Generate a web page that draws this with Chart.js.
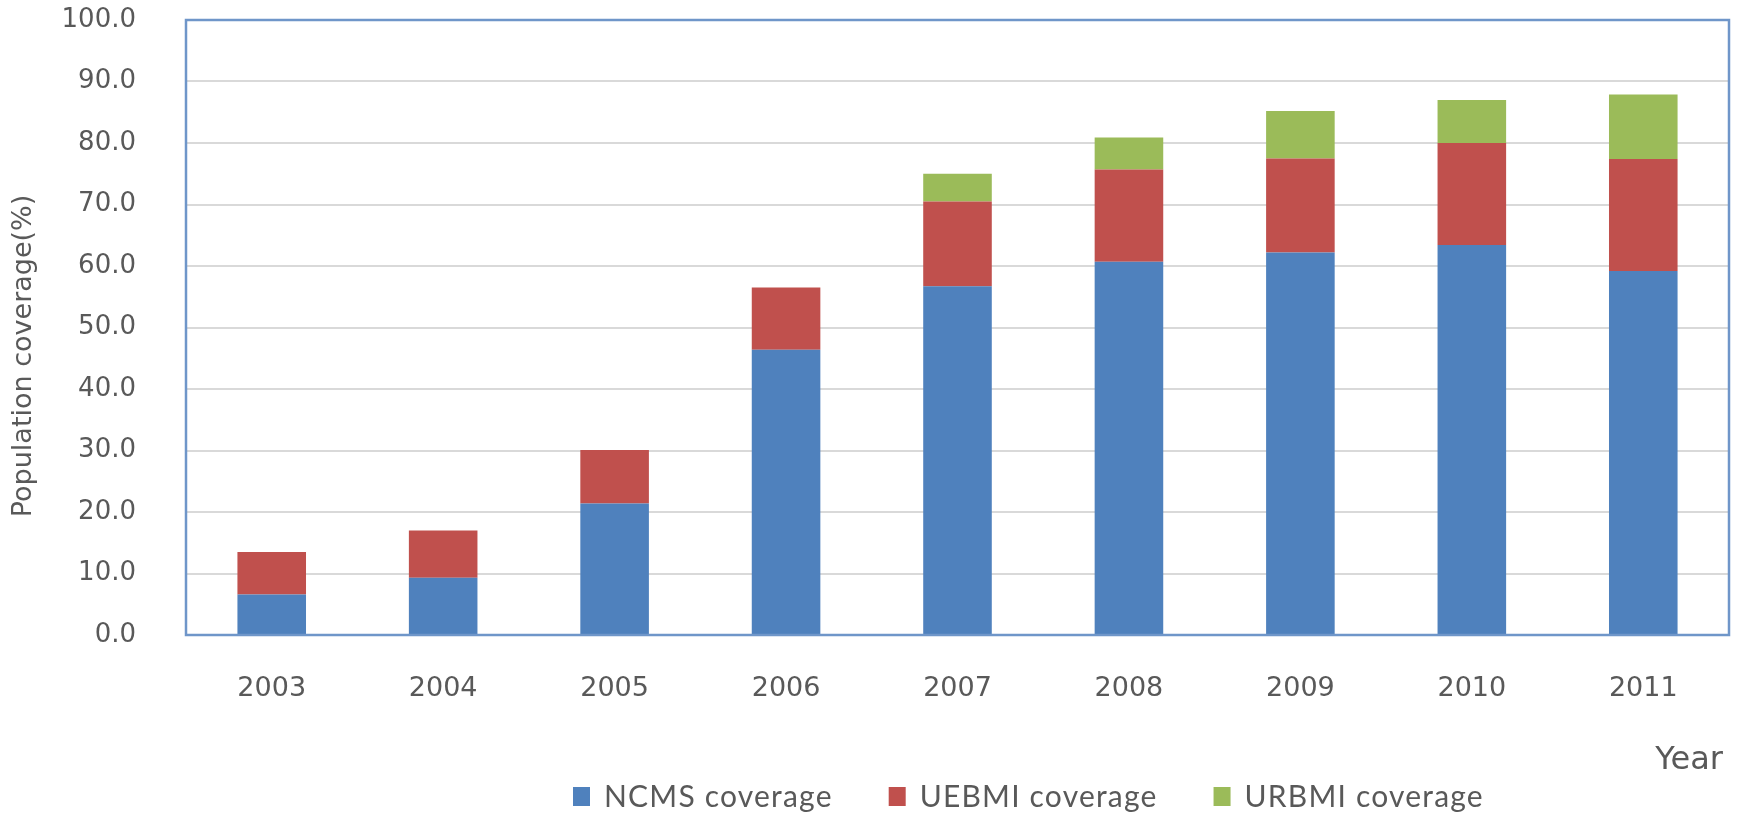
<!DOCTYPE html>
<html>
<head>
<meta charset="utf-8">
<script src="https://cdn.jsdelivr.net/npm/chart.js@4.4.0/dist/chart.umd.min.js"></script>
<style>
    html, body { margin: 0; padding: 0; background: #fff; }
    #caixa { width: 1744px; height: 813px; }
</style>
</head>
<body>
<div id="caixa"><canvas id="grafico" width="1744" height="813"></canvas></div>
<script>
// Dados
const anos = ['2003', '2004', '2005', '2006', '2007', '2008', '2009', '2010', '2011'];
const ncms = [6.6, 9.3, 21.4, 46.4, 56.7, 60.7, 62.2, 63.4, 59.2];
const uebmi = [6.9, 7.7, 8.7, 10.1, 13.8, 15.0, 15.3, 16.6, 18.2];
const urbmi = [0, 0, 0, 0, 4.5, 5.2, 7.7, 7.0, 10.5];
const series = ['NCMS coverage', 'UEBMI coverage', 'URBMI coverage'];
const tituloY = 'Population coverage(%)';
const tituloX = 'Year';

const cores = ['#4F81BD', '#C0504D', '#9BBB59'];
const corTexto = '#595959';

// Moldura azul da área do gráfico
const molduraArea = {
    id: 'molduraArea',
    afterDatasetsDraw(chart) {
        const { ctx, chartArea: a } = chart;
        ctx.save();
        ctx.strokeStyle = '#6F96C9';
        ctx.lineWidth = 2.5;
        ctx.strokeRect(a.left, a.top, a.right - a.left, a.bottom - a.top);
        ctx.restore();
    }
};

// Títulos dos eixos e legenda desenhados à mão
const textosExtra = {
    id: 'textosExtra',
    afterDraw(chart) {
        const ctx = chart.ctx;
        ctx.save();
        ctx.fillStyle = corTexto;
        ctx.font = '27px "DejaVu Sans"';
        ctx.textAlign = 'center';
        ctx.textBaseline = 'middle';
        ctx.translate(24, 356);
        ctx.rotate(-Math.PI / 2);
        ctx.fillText(tituloY, 0, 0);
        ctx.restore();

        ctx.save();
        ctx.fillStyle = corTexto;
        ctx.font = '32px "DejaVu Sans"';
        ctx.textAlign = 'right';
        ctx.textBaseline = 'middle';
        ctx.fillText(tituloX, 1723, 761);
        ctx.restore();

        ctx.save();
        ctx.font = '30px Lato';
        ctx.letterSpacing = '1.2px';
        ctx.textBaseline = 'middle';
        let x = 573;
        const y = 797;
        chart.data.datasets.forEach(ds => {
            ctx.fillStyle = ds.backgroundColor;
            ctx.fillRect(x, y - 10, 17, 19);
            ctx.fillStyle = corTexto;
            ctx.fillText(ds.label, x + 31, y);
            x += 31 + ctx.measureText(ds.label).width + 56;
        });
        ctx.restore();
    }
};

new Chart(document.getElementById('grafico'), {
    type: 'bar',
    data: {
        labels: anos,
        datasets: [
            { label: series[0], data: ncms, backgroundColor: cores[0] },
            { label: series[1], data: uebmi, backgroundColor: cores[1] },
            { label: series[2], data: urbmi, backgroundColor: cores[2] }
        ]
    },
    options: {
        responsive: false,
        devicePixelRatio: 1,
        animation: false,
        layout: { padding: { top: 20, right: 15, left: 0, bottom: 0 } },
        datasets: { bar: { categoryPercentage: 1, barPercentage: 0.4 } },
        plugins: { legend: { display: false }, tooltip: { enabled: false } },
        scales: {
            x: {
                stacked: true,
                grid: { display: false, drawTicks: false },
                border: { display: false },
                ticks: { color: corTexto, font: { family: 'DejaVu Sans', size: 27 }, padding: 38 },
                afterFit(scale) { scale.height = 178; }
            },
            y: {
                stacked: true,
                min: 0,
                max: 100,
                ticks: {
                    stepSize: 10, color: corTexto, padding: 50,
                    font: { family: 'DejaVu Sans', size: 26 },
                    callback: v => v.toFixed(1)
                },
                grid: {
                    drawTicks: false, lineWidth: 2,
                    color: c => (c.tick.value === 0 || c.tick.value === 100) ? 'rgba(0,0,0,0)' : '#D9D9D9'
                },
                border: { display: false },
                afterFit(scale) {
                    scale.width = 186;
                    scale.paddingTop = 0;
                    scale.paddingBottom = 0;
                }
            }
        }
    },
    plugins: [molduraArea, textosExtra]
});
</script>
</body>
</html>
